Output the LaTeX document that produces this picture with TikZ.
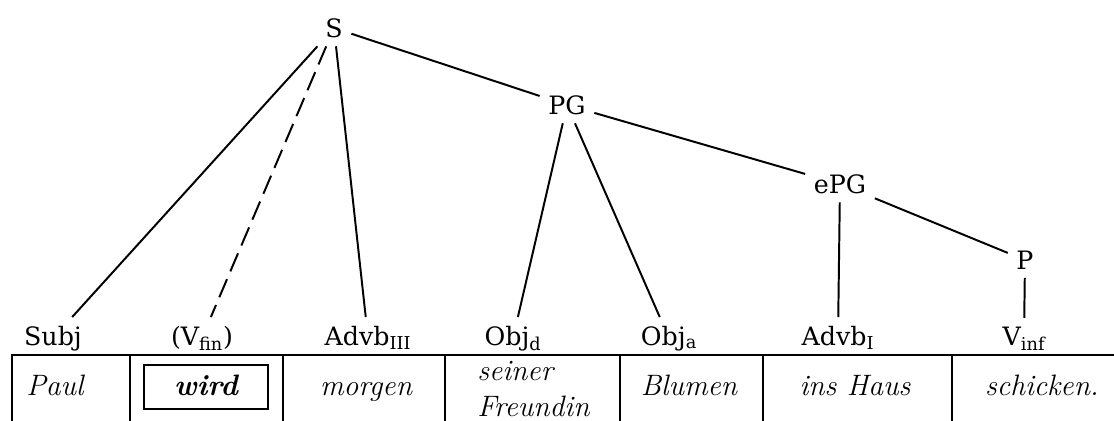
\documentclass[tikz,border=0pt]{standalone}
\usepackage{fontspec}
\usepackage{tikz}
\usetikzlibrary{positioning}
\newfontfamily\catfont{DejaVu Serif}

\begin{document}
\begin{tikzpicture}[x=0.025cm, y=-0.025cm,
  every node/.style={inner sep=0pt},
  cat/.style={font=\catfont\fontsize{18}{22}\selectfont, inner sep=6pt},
  word/.style={font=\fontsize{21}{25}\selectfont\itshape, anchor=base},
  branch/.style={line width=1.4pt},
  virtual/.style={line width=1.4pt, dash pattern=on 14pt off 6pt},
  rule/.style={line width=1pt}]
  \useasboundingbox (0,0) rectangle (1114,421);
  \def\lab{345}  % baseline of the category row
  \def\wbl{395}  % baseline of the word row

  % phrase nodes
  \node[cat] (S)   at (334,28)  {S};
  \node[cat] (PG)  at (567,105) {PG};
  \node[cat] (ePG) at (840,184) {ePG};
  \node[cat] (P)   at (1025,260) {P};

  % category row
  \foreach \x/\nm/\txt in {
      53/Subj/Subj,
      202/Vfin/(V\textsubscript{fin}),
      368/AdvbIII/Advb\textsubscript{III},
      513/Objd/Obj\textsubscript{d},
      669/Obja/Obj\textsubscript{a},
      838/AdvbI/Advb\textsubscript{I},
      1024/Vinf/V\textsubscript{inf}}
  {
    \node[cat, anchor=base] (\nm) at (\x,\lab) {\txt};
  }

  % branches
  \draw[branch] (S) -- (PG);
  \draw[branch] (PG) -- (ePG);
  \draw[branch] (ePG) -- (P);
  \draw[branch] (S) -- (Subj);
  \draw[virtual] (S) -- (Vfin);
  \draw[branch] (S) -- (AdvbIII);
  \draw[branch] (PG) -- (Objd);
  \draw[branch] (PG) -- (Obja);
  \draw[branch] (ePG) -- (AdvbI);
  \draw[branch] (P) -- (Vinf);

  % table of the sentence
  \draw[rule] (12,421) |- (1114,355);
  \foreach \x in {130,283,445,620,763,952}
    \draw[rule] (\x,355) -- (\x,421);

  \node[word] (paul) at (55,\wbl) {Paul};
  \node[word, font=\fontsize{21}{25}\selectfont\bfseries\itshape] (wird) at (206,\wbl) {wird};
  \draw[rule, line width=1.4pt] (144,365) rectangle (268,409);
  \node[word] (morgen) at (366,\wbl) {morgen};
  \node[word, anchor=base west, align=left] (seiner) at (477,416) {seiner\\Freundin};
  \node[word] (blumen) at (689,\wbl) {Blumen};
  \node[word] (haus) at (855,\wbl) {ins Haus};
  \node[word] (schicken) at (1042,\wbl) {schicken.};
\end{tikzpicture}
\end{document}
